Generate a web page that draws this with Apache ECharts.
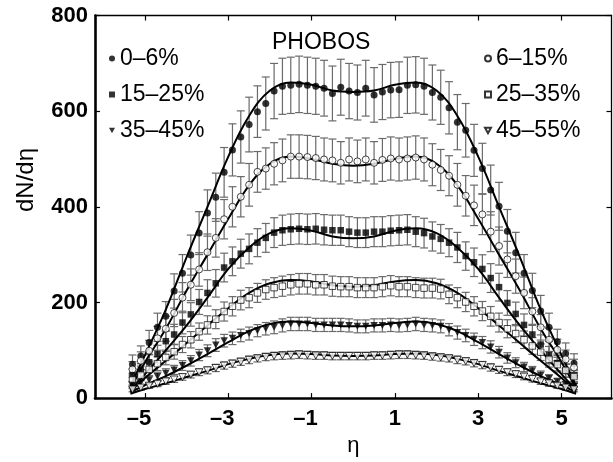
<!DOCTYPE html>
<html><head><meta charset="utf-8">
<script src="https://cdn.jsdelivr.net/npm/echarts@6/dist/echarts.min.js"></script>
<style>html,body{margin:0;padding:0;background:#fff}#c{width:613px;height:462px}</style>
</head><body><div id="c"></div>
<script>
// pseudorapidity bin centres
const eta = [-5.3,-5.1,-4.9,-4.7,-4.5,-4.3,-4.1,-3.9,-3.7,-3.5,-3.3,-3.1,-2.9,-2.7,-2.5,-2.3,-2.1,-1.9,-1.7,-1.5,-1.3,-1.1,-0.9,-0.7,-0.5,-0.3,-0.1,
             0.1,0.3,0.5,0.7,0.9,1.1,1.3,1.5,1.7,1.9,2.1,2.3,2.5,2.7,2.9,3.1,3.3,3.5,3.7,3.9,4.1,4.3,4.5,4.7,4.9,5.1,5.3];
// dN/deta per centrality class
const c0_6   = [71,88,116,148,171,224,261,299,345,387,420,472,519,546,572,599,616,642,652,654,656,654,652,648,637,650,642,
                639,648,634,640,644,645,654,655,652,639,629,607,577,560,518,480,435,401,349,304,261,225,182,148,118,93,73];
const c6_15  = [60,78,99,125,145,178,210,237,269,305,335,374,400,421,446,473,480,490,497,505,505,504,502,499,497,492,499,
                495,499,492,498,501,499,501,503,499,488,477,465,446,423,403,384,348,318,290,255,220,181,148,122,101,81,64];
const c15_25 = [48,58,75,92,119,133,158,175,201,220,240,273,286,302,312,325,335,346,351,353,354,353,354,352,351,351,348,
                346,346,348,348,350,351,352,348,345,338,333,325,315,297,284,270,251,232,199,176,153,133,112,90,73,57,47];
const c25_35 = [38,48,60,72,85,97,112,122,139,153,165,181,192,205,210,220,227,231,234,237,239,239,237,237,234,233,233,
                231,231,231,233,235,233,233,231,230,230,228,217,210,201,192,182,171,158,145,135,122,109,96,81,70,58,45];
const c35_45 = [27,32,38,45,52,59,68,78,90,99,111,120,125,131,135,141,145,148,152,155,155,155,153,153,153,153,152,
                150,150,152,152,153,152,153,155,153,152,150,143,137,131,123,116,107,96,84,74,65,57,48,41,34,28,24];
const c45_55 = [18,22,26,30,35,39,44,49,54,58,63,68,72,76,80,83,86,88,89,90,91,90,89,89,88,88,88,
                88,88,89,89,90,91,91,90,89,87,85,83,80,77,73,69,64,59,54,50,45,40,35,31,26,22,18];
// relative systematic error per bin
const relErr = [0.27,0.24,0.22,0.20,0.18,0.16,0.15,0.14,0.13,0.125,0.12,0.11,0.105,0.10,0.10,0.09,0.09,0.09,0.09,0.09,0.09,0.09,0.09,0.09,0.09,0.09,0.09,
                0.09,0.09,0.09,0.09,0.09,0.09,0.09,0.09,0.09,0.09,0.09,0.09,0.10,0.10,0.105,0.11,0.12,0.125,0.13,0.14,0.15,0.16,0.18,0.20,0.22,0.24,0.27];
// fit curves
const fitEta   = [-5.35,-5.0,-4.5,-4.0,-3.5,-3.0,-2.5,-2.0,-1.5,-1.0,-0.5,0,0.5,1.0,1.5,2.0,2.5,3.0,3.5,4.0,4.5,5.0,5.35];
const fit0_6   = [25,90,185,295,400,505,590,643,660,655,643,640,643,655,660,643,590,505,400,295,185,90,25];
const fit6_15  = [20,75,145,225,300,375,445,490,505,500,490,486,490,500,505,490,445,375,300,225,145,75,20];
const fit15_25 = [17,50,100,152,210,270,315,345,355,350,338,334,338,350,355,345,315,270,210,152,100,50,17];
const fit25_35 = [14,42,78,115,152,188,220,240,247,244,236,233,236,244,247,240,220,188,152,115,78,42,14];
const fit35_45 = [12,27,46,68,92,117,140,155,160,157,152,150,152,157,160,155,140,117,92,68,46,27,12];
const fit45_55 = [9,19,31,44,57,71,82,90,93,92,89,88,89,92,93,90,82,71,57,44,31,19,9];

const xTicks = [-5,-3,-1,1,3,5];
const yTicks = [0,200,400,600,800];
const names = ['0–6%','6–15%','15–25%','25–35%','35–45%','45–55%'];

const FONT = "'Liberation Sans', Arial, sans-serif";
const triDown = 'path://M0,0 L10,0 L5,9 Z';

function errSeries(vals){
  return {
    type:'custom', z:1, silent:true,
    encode:{x:0, y:[1,2]},
    renderItem(params, api){
      const x = api.value(0), lo = api.value(1), hi = api.value(2);
      const p1 = api.coord([x, lo]), p2 = api.coord([x, hi]);
      const w = 4;
      const style = {stroke:'#6a6a6a', lineWidth:1.2};
      return {type:'group', children:[
        {type:'line', shape:{x1:p1[0],y1:p1[1],x2:p2[0],y2:p2[1]}, style},
        {type:'line', shape:{x1:p1[0]-w,y1:p1[1],x2:p1[0]+w,y2:p1[1]}, style},
        {type:'line', shape:{x1:p2[0]-w,y1:p2[1],x2:p2[0]+w,y2:p2[1]}, style}
      ]};
    },
    data: vals.map((v,i)=>[eta[i], v*(1-relErr[i]), v*(1+relErr[i])])
  };
}
function fitSeries(vals){
  return {type:'line', z:2, silent:true, smooth:0.4, showSymbol:false,
    lineStyle:{color:'#000', width:2}, data: fitEta.map((e,i)=>[e, vals[i]])};
}
function markSeries(name, vals, symbol, open){
  return {type:'scatter', name, z:3, symbol, symbolSize: symbol==='rect'?6.5:(symbol===triDown?[7.5,7]:7),
    itemStyle: open ? {color:'#fff', borderColor:'#000', borderWidth:0.9} : {color:'#000'},
    data: vals.map((v,i)=>[eta[i], v])};
}

const allVals = [c0_6,c6_15,c15_25,c25_35,c35_45,c45_55];
const allFits = [fit0_6,fit6_15,fit15_25,fit25_35,fit35_45,fit45_55];
const syms = ['circle','circle','rect','rect',triDown,triDown];
const opens = [false,true,false,true,false,true];

const series = [];
allVals.forEach(v=>series.push(errSeries(v)));
allFits.forEach(f=>series.push(fitSeries(f)));
allVals.forEach((v,i)=>series.push(markSeries(names[i], v, syms[i], opens[i])));

const chart = echarts.init(document.getElementById('c'), null, {renderer:'canvas'});
const legendBase = {orient:'vertical', padding:0, itemWidth:6, itemHeight:6, itemGap:13,
  selectedMode:false, textStyle:{fontFamily:FONT, fontSize:23, color:'#000'}};
chart.setOption({
  animation:false,
  backgroundColor:'#fff',
  grid:{left:95, right:1.5, top:15.5, bottom:38},
  legend:[
    Object.assign({}, legendBase, {left:109, top:47, data:[names[0],names[2],names[4]]}),
    Object.assign({}, legendBase, {left:484, top:47, data:[names[1],names[3],names[5]]})
  ],
  graphic:[
    {type:'text', left:272, top:31, style:{text:'PHOBOS', font:'23px '+FONT, fill:'#000'}},
    {type:'text', x:26, y:180, rotation:Math.PI/2,
     style:{text:'dN/dη', font:'24px '+FONT, fill:'#000', align:'center', verticalAlign:'middle'}}
  ],
  xAxis:[
    {type:'value', min:-6.2, max:6.2, position:'bottom',
     name:'η', nameLocation:'middle', nameGap:13,
     nameTextStyle:{fontFamily:FONT, fontSize:22, color:'#000'},
     axisLine:{show:true, onZero:false, lineStyle:{color:'#000', width:2.6}},
     axisTick:{show:true, inside:true, length:5, customValues:xTicks, lineStyle:{color:'#000', width:1.2}},
     axisLabel:{show:true, customValues:xTicks, margin:10, color:'#000',
       fontFamily:FONT, fontSize:22, fontWeight:'bold',
       formatter:v=> v<0 ? '{n|–'+Math.abs(v)+'}' : String(v),
       rich:{n:{fontFamily:FONT, fontSize:22, fontWeight:'bold', color:'#000', padding:[0,12,0,0]}}},
     splitLine:{show:false}},
    {type:'value', min:-6.2, max:6.2, position:'top',
     axisLine:{show:true, onZero:false, lineStyle:{color:'#000', width:1.3}},
     axisTick:{show:true, inside:true, length:5, customValues:xTicks, lineStyle:{color:'#000', width:1.2}},
     axisLabel:{show:false}, splitLine:{show:false}}
  ],
  yAxis:[
    {type:'value', min:0, max:800, interval:200, position:'left',
     axisLine:{show:true, onZero:false, lineStyle:{color:'#000', width:2.6}},
     axisTick:{show:true, inside:true, length:5, customValues:yTicks, lineStyle:{color:'#000', width:1.2}},
     axisLabel:{show:true, customValues:yTicks, margin:7, color:'#000', fontFamily:FONT, fontSize:22, fontWeight:'bold'},
     splitLine:{show:false}},
    {type:'value', min:0, max:800, interval:200, position:'right',
     axisLine:{show:true, onZero:false, lineStyle:{color:'#000', width:1.3}},
     axisTick:{show:true, inside:true, length:5, customValues:yTicks, lineStyle:{color:'#000', width:1.2}},
     axisLabel:{show:false}, splitLine:{show:false}}
  ],
  series
});
</script></body></html>
